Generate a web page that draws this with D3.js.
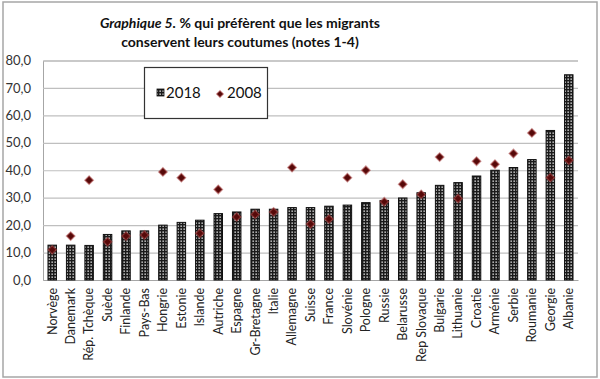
<!DOCTYPE html>
<html>
<head>
<meta charset="utf-8">
<script src="https://cdn.jsdelivr.net/npm/d3@7"></script>
<style>
  body { margin: 0; background: #fff; }
  svg { display: block; font-family: Lato, "Open Sans", sans-serif; }
</style>
</head>
<body>
<svg width="600" height="379"></svg>
<script>
// Data
var countries = ['Norvège', 'Danemark', 'Rép. Tchèque', 'Suède', 'Finlande', 'Pays-Bas', 'Hongrie',
  'Estonie', 'Islande', 'Autriche', 'Espagne', 'Gr-Bretagne', 'Italie', 'Allemagne', 'Suisse',
  'France', 'Slovénie', 'Pologne', 'Russie', 'Belarusse', 'Rep Slovaque', 'Bulgarie', 'Lithuanie',
  'Croatie', 'Arménie', 'Serbie', 'Roumanie', 'Georgie', 'Albanie'];
var values2018 = [12.7, 12.7, 12.6, 16.6, 17.9, 17.9, 20.0, 21.0, 21.8, 24.2, 24.8, 25.8, 25.8, 26.4,
  26.4, 26.9, 27.3, 28.2, 29.0, 29.9, 31.8, 34.5, 35.5, 37.9, 40.0, 41.0, 43.9, 54.5, 74.8];
var values2008 = [11.0, 16.0, 36.4, 13.9, 16.0, 16.4, 39.4, 37.3, 17.0, 33.0, 23.0, 23.9, 24.8, 41.0,
  20.4, 22.2, 37.3, 40.0, 28.5, 34.9, 31.2, 44.8, 29.7, 43.3, 42.2, 46.1, 53.6, 37.3, 43.6];
var yTicks = [0, 10, 20, 30, 40, 50, 60, 70, 80];

// plot area edges
var plotLeft = 43, plotRight = 578, plotTop = 60.5, plotBottom = 280;

var svg = d3.select('svg');

// checkered fill for the 2018 bars
var pat = svg.append('defs').append('pattern')
  .attr('id', 'checker')
  .attr('patternUnits', 'userSpaceOnUse')
  .attr('width', 3).attr('height', 3);
pat.append('rect').attr('width', 3).attr('height', 3).attr('fill', '#1a1a1a');
pat.append('rect').attr('x', 0.5).attr('y', 0.5).attr('width', 1.3).attr('height', 1.3).attr('fill', '#fff');

// outer frame
svg.append('rect')
  .attr('x', 3).attr('y', 2).attr('width', 594).attr('height', 375)
  .attr('fill', 'none').attr('stroke', '#a6a6a6').attr('stroke-width', 1.5);

var x = d3.scaleBand().domain(countries).range([plotLeft, plotRight]).paddingInner(0.54).paddingOuter(0.27);
var y = d3.scaleLinear().domain([0, 80]).range([plotBottom, plotTop]);

// title
var title = svg.append('text').attr('text-anchor', 'middle').attr('font-weight', 'bold')
  .attr('font-size', 14).attr('fill', '#111');
var t1 = title.append('tspan').attr('x', 240).attr('y', 28);
t1.append('tspan').attr('font-style', 'italic').text('Graphique 5.');
t1.append('tspan').text(' % qui préfèrent que les migrants');
title.append('tspan').attr('x', 240).attr('y', 47).text('conservent leurs coutumes (notes 1-4)');

// y axis with gridlines
var yAxis = d3.axisLeft(y).tickValues(yTicks).tickSize(-(plotRight - plotLeft)).tickPadding(12)
  .tickFormat(d => d3.format('.1f')(d).replace('.', ','));
var gy = svg.append('g').attr('transform', 'translate(' + plotLeft + ',0)').call(yAxis);
gy.select('.domain').attr('stroke', '#a6a6a6');
gy.selectAll('.tick line').attr('stroke', '#bfbfbf').attr('stroke-width', 1.2);
gy.selectAll('.tick text').attr('font-size', 13).attr('fill', '#333')
  .attr('font-family', 'Lato, sans-serif');

// x axis
var xAxis = d3.axisBottom(x).tickSize(0).tickPadding(0);
var gx = svg.append('g').attr('transform', 'translate(0,' + plotBottom + ')').call(xAxis);
gx.select('.domain').attr('stroke', '#a6a6a6').attr('stroke-width', 1.2);
gx.selectAll('.tick text')
  .attr('font-size', 12.5).attr('fill', '#222').attr('font-family', 'Lato, sans-serif')
  .attr('text-anchor', 'end').attr('dy', '0.35em')
  .attr('transform', 'translate(0,8) rotate(-90)')
  .attr('x', 0).attr('y', 0);

// bars 2018
svg.append('g').selectAll('rect')
  .data(countries).enter()
  .append('rect')
  .attr('x', d => x(d))
  .attr('width', x.bandwidth())
  .attr('y', (d, i) => y(values2018[i]))
  .attr('height', (d, i) => y(0) - y(values2018[i]))
  .attr('fill', 'url(#checker)')
  .attr('stroke', '#111').attr('stroke-width', 1);

// markers 2008
var diamond = d3.symbol().type(d3.symbolSquare).size(34);
svg.append('g').selectAll('path')
  .data(countries).enter()
  .append('path')
  .attr('d', diamond)
  .attr('transform', (d, i) => 'translate(' + (x(d) + x.bandwidth() / 2) + ',' + y(values2008[i]) + ') rotate(45)')
  .attr('fill', '#560909')
  .attr('stroke', 'rgba(170,70,70,0.55)').attr('stroke-width', 1.5);

// legend
var lg = svg.append('g');
lg.append('rect').attr('x', 144.5).attr('y', 67.5).attr('width', 123).attr('height', 51)
  .attr('fill', '#fff').attr('stroke', '#333').attr('stroke-width', 1.2);
lg.append('rect').attr('x', 157).attr('y', 89).attr('width', 7).attr('height', 7)
  .attr('fill', 'url(#checker)').attr('stroke', '#111').attr('stroke-width', 0.8);
lg.append('text').attr('x', 166).attr('y', 98).attr('font-size', 15).attr('fill', '#111').text('2018');
lg.append('path').attr('d', d3.symbol().type(d3.symbolSquare).size(22))
  .attr('transform', 'translate(220,94) rotate(45)')
  .attr('fill', '#560909').attr('stroke', 'rgba(170,70,70,0.55)').attr('stroke-width', 1.2);
lg.append('text').attr('x', 227).attr('y', 98).attr('font-size', 15).attr('fill', '#111').text('2008');
</script>
</body>
</html>
